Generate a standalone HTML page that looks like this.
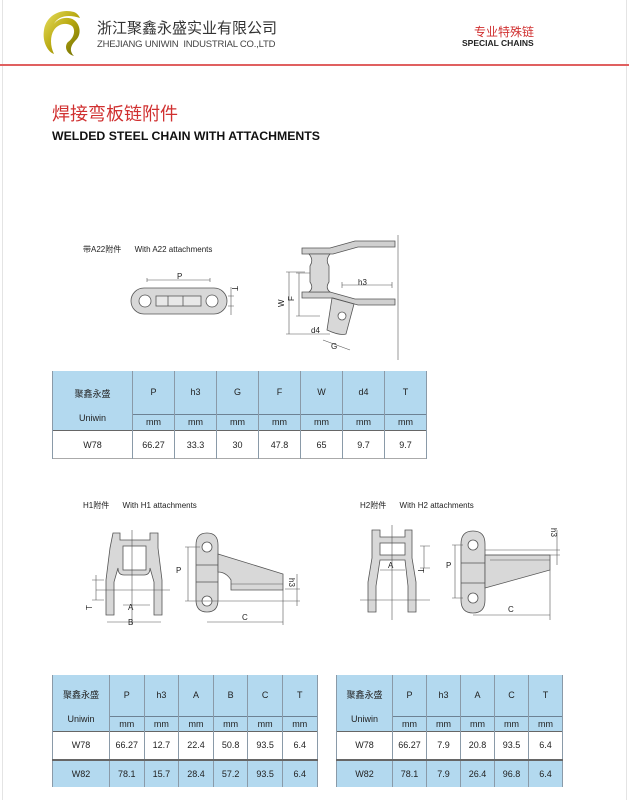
<!DOCTYPE html>
<html><head><meta charset="utf-8"><style>
body{margin:0;width:629px;height:800px;background:#fff;position:relative;overflow:hidden;font-family:"Liberation Sans","Noto Sans CJK SC",sans-serif;}
.a{position:absolute;white-space:nowrap}
table{position:absolute;border-collapse:collapse;font-size:9px;color:#222;text-align:center;table-layout:fixed}
td{padding:0;border:1px solid #8a9aa8;border-top:none;border-bottom:none}
.hd td{background:#b3d9ef}
.mm td{background:#b3d9ef;border-top:1px solid #6d8294}
.w td{background:#fff}
.b td{background:#b3d9ef}
</style></head><body>
<div class="a" style="left:2px;top:0;width:1px;height:800px;background:#e4e4e4"></div>
<div class="a" style="left:626px;top:0;width:1px;height:800px;background:#e4e4e4"></div>
<div class="a" style="left:0;top:64px;width:629px;height:2px;background:#e06060"></div>
<svg class="a" style="left:38px;top:8px" width="46" height="50" viewBox="0 0 46 50">
<defs><linearGradient id="g" x1="0" y1="0" x2="1" y2="1"><stop offset="0" stop-color="#e8e060"/><stop offset="0.5" stop-color="#b8a810"/><stop offset="1" stop-color="#6a6a00"/></linearGradient></defs>
<path d="M36 4 C22 0 8 8 6 22 C4 34 10 44 16 46 C12 38 12 28 16 22 C20 16 28 14 34 18 C38 22 36 30 30 34 C26 38 28 46 36 48 C30 42 34 36 38 32 C44 26 42 16 36 12 C30 8 20 10 16 16 C20 8 30 6 42 10 C40 6 38 5 36 4Z" fill="url(#g)"/>
</svg>
<div class="a" style="left:97px;top:17px;font-size:15px;color:#333">浙江聚鑫永盛实业有限公司</div>
<div class="a" style="left:97px;top:39px;font-size:9.5px;color:#444;letter-spacing:-0.2px">ZHEJIANG UNIWIN&nbsp; INDUSTRIAL CO.,LTD</div>
<div class="a" style="left:474px;top:23px;font-size:12px;color:#d03030">专业特殊链</div>
<div class="a" style="left:462px;top:38px;font-size:8.5px;font-weight:bold;color:#222">SPECIAL CHAINS</div>
<div class="a" style="left:52px;top:103px;font-size:18px;line-height:22px;color:#d03030">焊接弯板链附件</div>
<div class="a" style="left:52px;top:129px;font-size:12.3px;font-weight:bold;color:#111">WELDED STEEL CHAIN WITH ATTACHMENTS</div>

<div class="a" style="left:83px;top:244px;font-size:8px;color:#222">带A22附件&nbsp;&nbsp;&nbsp;&nbsp;&nbsp; With A22 attachments</div>
<div class="a" style="left:83px;top:500px;font-size:8px;color:#222">H1附件&nbsp;&nbsp;&nbsp;&nbsp;&nbsp; With H1 attachments</div>
<div class="a" style="left:360px;top:500px;font-size:8px;color:#222">H2附件&nbsp;&nbsp;&nbsp;&nbsp;&nbsp; With H2 attachments</div>

<svg class="a" style="left:0;top:0" width="629" height="800" font-family="Liberation Sans" font-size="8" fill="none" stroke="#555" stroke-width="0.8">
<rect x="131" y="288" width="96" height="26" rx="13" fill="#d8d8d8"/>
<circle cx="145" cy="301" r="6" fill="#fff"/><circle cx="212" cy="301" r="6" fill="#fff"/>
<rect x="156" y="296" width="45" height="10" fill="#e8e8e8"/>
<line x1="168" y1="296" x2="168" y2="306"/><line x1="183" y1="296" x2="183" y2="306"/>
<path d="M147 280 H210 M147 278v4 M210 278v4 M228 296h6 M228 306h6 M231 287v28" stroke-width="0.6"/>
<text x="177" y="279" fill="#222" stroke="none">P</text>
<text x="232" y="286" fill="#222" stroke="none" transform="rotate(90 232 286)">T</text>
<path d="M302 248 H330 L355 241 H395 V247 H358 L333 254 H302Z" fill="#d0d0d0"/>
<path d="M302 292 H330 L355 299 H395 V305 H358 L333 298 H302Z" fill="#d0d0d0"/>
<path d="M309 254 Q314 260 310 266 V282 Q314 288 309 292 H330 Q325 288 329 282 V266 Q325 260 330 254Z" fill="#d8d8d8"/>
<path d="M332 298 L354 304 L346 334 Q340 336 327 330Z" fill="#d8d8d8"/>
<circle cx="342" cy="316" r="4" fill="#fff"/>
<path d="M286 272 H305 M286 334 H330 M289 272 V334 M296 273 H310 M296 316 H320 M299 273 V316 M342 285 H392 M342 282v6 M392 282v6 M323 340 L350 350 M398 235V360" stroke-width="0.6"/>
<text x="281" y="304" fill="#222" stroke="none" transform="rotate(-90 284 304)">W</text>
<text x="291" y="298" fill="#222" stroke="none" transform="rotate(-90 294 298)">F</text>
<text x="358" y="285" fill="#222" stroke="none">h3</text>
<text x="311" y="333" fill="#222" stroke="none">d4</text>
<text x="331" y="349" fill="#222" stroke="none">G</text>
<path d="M113 533 H120 V540 H150 V533 H158 V548 L162 580 V615 H154 V582 L150 568 Q150 575 144 575 H124 Q118 575 118 568 L114 582 V615 H106 V580 L110 548Z" fill="#d8d8d8"/>
<rect x="123" y="546" width="23" height="24" fill="#fff"/>
<path d="M96 590 H170 M92 580 H104 M92 600 H104 M96 575 V600 M123 605 H150 M107 622 H161 M132 530V625" stroke-width="0.6"/>
<text x="128" y="610" fill="#222" stroke="none">A</text><text x="128" y="625" fill="#222" stroke="none">B</text>
<text x="86" y="608" fill="#222" stroke="none" transform="rotate(-90 90 606)">T</text>
<path d="M196 545 Q196 533 207 533 Q218 533 218 545 V600 Q218 612 207 612 Q196 612 196 600Z" fill="#d8d8d8"/>
<path d="M218 554 L283 574 V590 H231 V580 Q226 572 218 572Z" fill="#d8d8d8"/>
<circle cx="207" cy="547" r="5" fill="#fff"/><circle cx="207" cy="601" r="5" fill="#fff"/>
<line x1="196" y1="565" x2="218" y2="565"/><line x1="196" y1="582" x2="218" y2="582"/>
<path d="M185 547 H200 M185 601 H300 M188 547 V601 M207 622 H283 M283 590 V625 M285 589 H300 M297 574 V606 M231 584 H283" stroke-width="0.6"/>
<text x="176" y="573" fill="#222" stroke="none">P</text><text x="242" y="620" fill="#222" stroke="none">C</text>
<text x="292" y="585" fill="#222" stroke="none" transform="rotate(90 294 580)">h3</text>
<path d="M372 530 H380 V537 H405 V530 H412 V558 L416 582 V612 H408 V586 L405 560 H380 L376 586 V612 H368 V582 L372 558Z" fill="#d8d8d8"/>
<rect x="380" y="543" width="25" height="12" fill="#fff"/>
<path d="M380 570 H405 M392 525V620 M360 600H430 M424 546 V568 M420 546H430 M420 568H430" stroke-width="0.6"/>
<text x="388" y="568" fill="#222" stroke="none">A</text>
<text x="418" y="572" fill="#222" stroke="none" transform="rotate(90 420 570)">T</text>
<path d="M461 544 Q461 531 473 531 Q485 531 485 544 V600 Q485 613 473 613 Q461 613 461 600Z" fill="#d8d8d8"/>
<path d="M485 555 H550 V570 L485 588Z" fill="#d8d8d8"/>
<circle cx="473" cy="545" r="5" fill="#fff"/><circle cx="473" cy="598" r="5" fill="#fff"/>
<line x1="461" y1="563" x2="485" y2="563"/><line x1="461" y1="583" x2="485" y2="583"/>
<path d="M452 545 H463 M452 598 H463 M455 545 V598 M473 615 H550 M550 570 V620 M485 550 H560 M485 555 H560 M557 530 V565 M490 560 H550" stroke-width="0.6"/>
<text x="446" y="568" fill="#222" stroke="none">P</text><text x="508" y="612" fill="#222" stroke="none">C</text>
<text x="547" y="528" fill="#222" stroke="none" transform="rotate(90 549 530)">h3</text>
</svg>

<table style="left:52px;top:371px;width:375px">
<colgroup><col style="width:80px"><col span="7" style="width:42px"></colgroup>
<tr class="hd" style="height:35px"><td rowspan="2" style="vertical-align:top;padding-top:11px;line-height:24px">聚鑫永盛<br>Uniwin</td><td>P</td><td>h3</td><td>G</td><td>F</td><td>W</td><td>d4</td><td>T</td></tr>
<tr class="mm" style="height:13px"><td>mm</td><td>mm</td><td>mm</td><td>mm</td><td>mm</td><td>mm</td><td>mm</td></tr>
<tr class="w" style="height:28px;border-top:1px solid #666;border-bottom:1px solid #aaa"><td>W78</td><td>66.27</td><td>33.3</td><td>30</td><td>47.8</td><td>65</td><td>9.7</td><td>9.7</td></tr>
</table>

<table style="left:52px;top:675px;width:265px">
<colgroup><col style="width:57px"><col span="6" style="width:34.6px"></colgroup>
<tr class="hd" style="height:35px"><td rowspan="2" style="vertical-align:top;padding-top:8px;line-height:24px">聚鑫永盛<br>Uniwin</td><td>P</td><td>h3</td><td>A</td><td>B</td><td>C</td><td>T</td></tr>
<tr class="mm" style="height:13px"><td>mm</td><td>mm</td><td>mm</td><td>mm</td><td>mm</td><td>mm</td></tr>
<tr class="w" style="height:28px;border-top:1px solid #666"><td>W78</td><td>66.27</td><td>12.7</td><td>22.4</td><td>50.8</td><td>93.5</td><td>6.4</td></tr>
<tr class="b" style="height:27px;border-top:2px solid #666"><td>W82</td><td>78.1</td><td>15.7</td><td>28.4</td><td>57.2</td><td>93.5</td><td>6.4</td></tr>
</table>

<table style="left:336px;top:675px;width:226px">
<colgroup><col style="width:56px"><col span="5" style="width:34px"></colgroup>
<tr class="hd" style="height:35px"><td rowspan="2" style="vertical-align:top;padding-top:8px;line-height:24px">聚鑫永盛<br>Uniwin</td><td>P</td><td>h3</td><td>A</td><td>C</td><td>T</td></tr>
<tr class="mm" style="height:13px"><td>mm</td><td>mm</td><td>mm</td><td>mm</td><td>mm</td></tr>
<tr class="w" style="height:28px;border-top:1px solid #666"><td>W78</td><td>66.27</td><td>7.9</td><td>20.8</td><td>93.5</td><td>6.4</td></tr>
<tr class="b" style="height:27px;border-top:2px solid #666"><td>W82</td><td>78.1</td><td>7.9</td><td>26.4</td><td>96.8</td><td>6.4</td></tr>
</table>
</body></html>
